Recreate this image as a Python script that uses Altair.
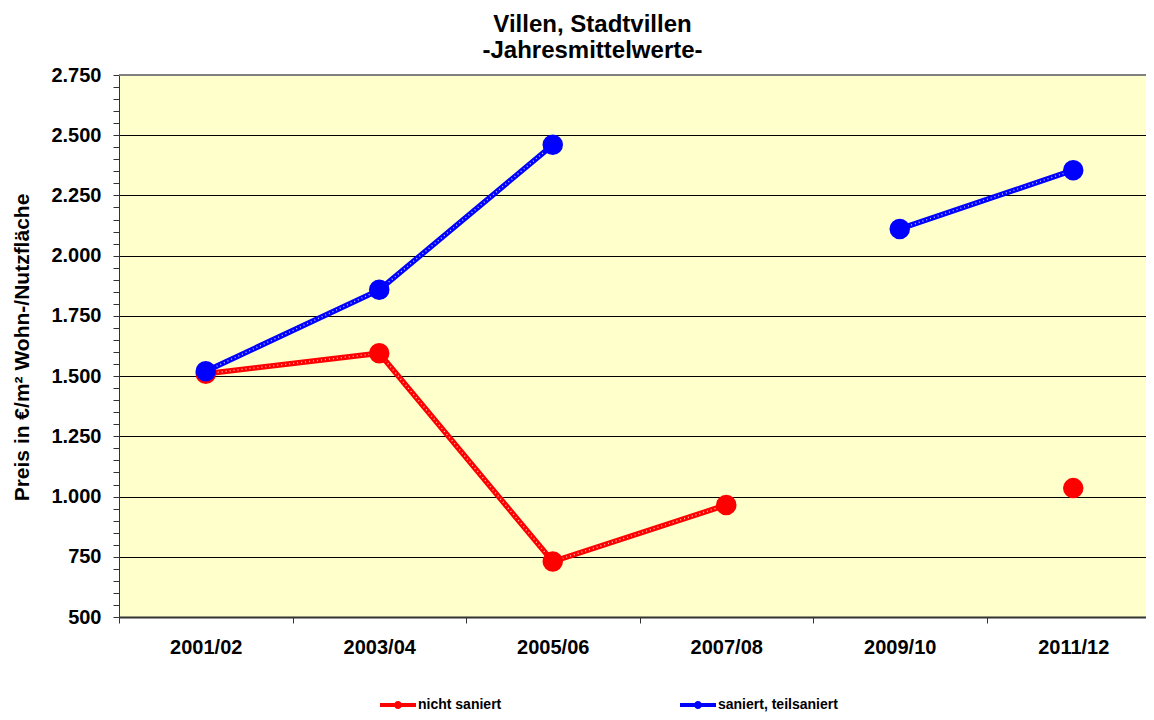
import altair as alt
import pandas as pd

periods = ["2001/02", "2003/04", "2005/06", "2007/08", "2009/10", "2011/12"]
series_names = ["nicht saniert", "saniert, teilsaniert"]
nicht_saniert = [1510, 1595, 730, 965, None, 1035]
saniert = [1520, 1858, 2460, None, 2111, 2355]
colors = ["#FF0000", "#0000FF"]
y_top = [2750]

rows = []
for name, vals in zip(series_names, [nicht_saniert, saniert]):
    for p, v in zip(periods, vals):
        rows.append({"Zeitraum": p, "Serie": name, "Preis": v})
df = pd.DataFrame(rows)

FONT = "Liberation Sans"
W, H = 1027, 542

x_enc = alt.X(
    "Zeitraum:N",
    sort=periods,
    scale=alt.Scale(domain=periods, range=[0, 1041], paddingInner=0, paddingOuter=0),
    axis=alt.Axis(
        title=None, labelAngle=0, labelFont=FONT, labelFontSize=20, labelFontWeight="bold",
        labelColor="black", labelPadding=14, tickBand="extent", tickSize=6, tickColor="#333333",
        domainColor="#333333", domainWidth=2, grid=False,
    ),
)
y_scale = alt.Scale(domain=[500, 2750], nice=False, zero=False)
y_enc = alt.Y(
    "Preis:Q",
    scale=y_scale,
    axis=alt.Axis(
        title="Preis in €/m² Wohn-/Nutzfläche", titleFont=FONT, titleFontSize=21,
        titleFontWeight="bold", titleColor="black",
        titleX=-97, titleY=272, titleAngle=270, titleAlign="center", titleBaseline="middle",
        values=list(range(500, 2751, 50)),
        labelExpr="datum.value % 250 === 0 ? replace(format(datum.value, ','), ',', '.') : ''",
        labelFont=FONT, labelFontSize=20, labelFontWeight="bold", labelColor="black",
        labelPadding=12, labelOverlap=False, tickSize=6, tickColor="#333333",
        domainColor="#333333", domainWidth=1,
        grid=True, gridColor="black", gridWidth=1,
        gridOpacity=alt.condition("datum.value % 250 === 0 && datum.value > 500 && datum.value < 2750",
                                  alt.value(1), alt.value(0)),
    ),
)

legend = alt.Legend(
    title=None, orient="none", legendX=261, legendY=612, direction="horizontal", columns=2,
    columnPadding=178, labelFont=FONT, labelFontSize=14, labelFontWeight="bold",
    labelColor="black", labelOffset=2,
    symbolType="M-1,-0.11H1V0.11H-1Z M0.22,0A0.22,0.22 0 1,1 -0.22,0A0.22,0.22 0 1,1 0.22,0Z",
    symbolSize=1296, symbolStrokeWidth=0,
)
color_enc = alt.Color("Serie:N", scale=alt.Scale(domain=series_names, range=colors), legend=legend)

base = alt.Chart(df).encode(x=x_enc, y=y_enc)

top_border = alt.Chart(pd.DataFrame({"Preis": y_top})).mark_rule(color="#808080", strokeWidth=2).encode(
    y=y_enc, x=alt.value(0), x2=alt.value(1041),
)

lines = base.mark_line(strokeWidth=5.5, invalid="break-paths-show-domains").encode(
    color=color_enc, detail="Serie:N"
)
dots_overlay = base.mark_line(strokeWidth=1.4, color="white", strokeDash=[1, 3], opacity=0.75,
                              invalid="break-paths-show-domains").encode(detail="Serie:N")
points = base.mark_circle(size=420, opacity=1).encode(color=color_enc)

chart = alt.layer(top_border, lines, dots_overlay, points).properties(
    width=W, height=H,
    autosize=alt.AutoSizeParams(type="none"),
    padding={"left": 111, "top": 67, "right": 0, "bottom": 95},
    title=alt.Title(
        ["Villen, Stadtvillen", "-Jahresmittelwerte-"],
        font=FONT, fontSize=24, fontWeight="bold", color="black",
        anchor="middle", dx=-40, offset=2, lineHeight=26,
    ),
    background="white",
).configure_view(fill="#FFFFCC", stroke=None)

chart.save("out.html", embed_options={"renderer": "svg", "actions": False})
